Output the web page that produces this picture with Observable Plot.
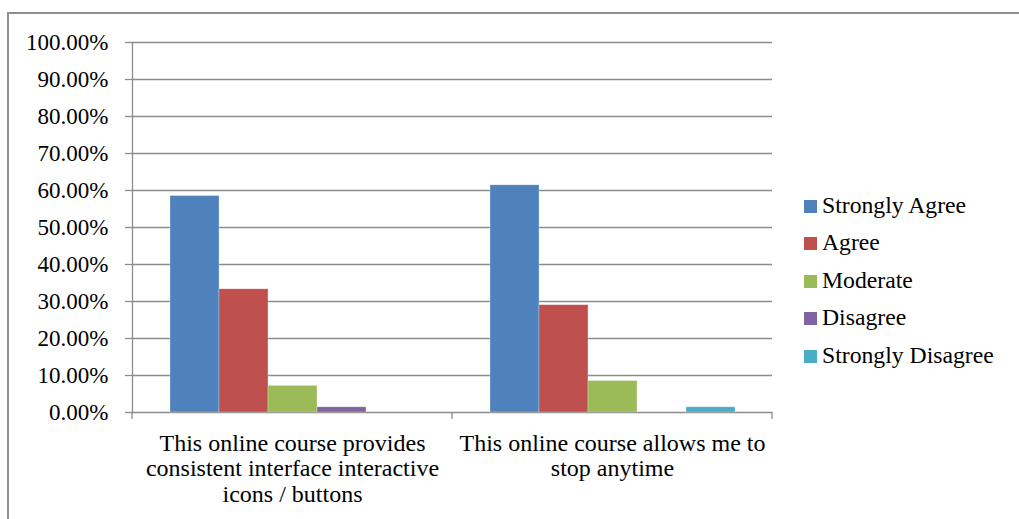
<!DOCTYPE html>
<html><head><meta charset="utf-8">
<script src="https://cdn.jsdelivr.net/npm/d3@7"></script>
<script src="https://cdn.jsdelivr.net/npm/@observablehq/plot@0.6"></script>
<style>
body{margin:0;background:#fff;}
#wrap{position:relative;width:1019px;height:519px;overflow:hidden;font-family:"Liberation Serif","Times New Roman",serif;background:#fff;}
#border{position:absolute;left:7px;top:12px;width:1100px;height:600px;border:2px solid #8f8f8f;box-sizing:border-box;}
#chart{position:absolute;left:0;top:0;}
.lg-sw{position:absolute;width:13px;height:13px;}
.lg-tx{position:absolute;font-size:23.7px;line-height:24px;color:#000;white-space:nowrap;}
</style></head>
<body>
<div id="wrap"><div id="border"></div><div id="chart"></div></div>
<script>
const categories = [
  "This online course provides consistent interface interactive icons / buttons",
  "This online course allows me to stop anytime"
];
const categoryLabels = [
  "This online course provides\nconsistent interface interactive\nicons / buttons",
  "This online course allows me to\nstop anytime"
];
const series = ["Strongly Agree", "Agree", "Moderate", "Disagree", "Strongly Disagree"];
const colors = ["#4F81BD", "#C0504D", "#9BBB59", "#8064A2", "#4BACC6"];
const valuesCourse1 = [0.585, 0.333, 0.072, 0.014, 0];
const valuesCourse2 = [0.614, 0.29, 0.085, 0, 0.014];
const yTicks = [0, 0.1, 0.2, 0.3, 0.4, 0.5, 0.6, 0.7, 0.8, 0.9, 1];

const allValues = [valuesCourse1, valuesCourse2];
const data = [];
categories.forEach((c, i) => series.forEach((s, j) => data.push({category: c, series: s, value: allValues[i][j]})));

const gridColor = "#8c8c8c";
const plot = Plot.plot({
  width: 1019, height: 519,
  marginLeft: 132, marginRight: 247, marginTop: 42, marginBottom: 107,
  style: {fontFamily: "'Liberation Serif','Times New Roman',serif", fontSize: "23px", color: "#000", background: "transparent", overflow: "visible"},
  fx: {domain: categories, padding: 0, axis: null},
  x: {domain: series, paddingInner: 0, paddingOuter: 0.765, axis: null},
  y: {domain: [0, 1], axis: null},
  color: {domain: series, range: colors},
  marks: [
    Plot.ruleY(yTicks, {stroke: gridColor, strokeWidth: 1.3}),
    Plot.axisY(yTicks, {tickSize: 7, tickPadding: 17, tickFormat: d3.format(".2%"), stroke: gridColor, strokeWidth: 1.3, fill: "#000", fontSize: 23, label: null}),
    Plot.frame({anchor: "left", facetAnchor: "left", stroke: gridColor, strokeWidth: 1.3}),
    Plot.barY(data, {fx: "category", x: "series", y: "value", fill: "series", stroke: "#fff", strokeOpacity: 0.45, strokeWidth: 0.6}),
    Plot.text(categories, {fx: d => d, text: (d, i) => categoryLabels[i], frameAnchor: "bottom", lineAnchor: "top", dy: 20, fontSize: 24, lineHeight: 1.07, fill: "#000"})
  ]
});
document.getElementById("chart").appendChild(plot);

// category boundary ticks, positioned from Plot's own fx and y scales
const fx = plot.scale("fx");
const y = plot.scale("y");
const y0 = y.apply(0);
const bounds = categories.map(c => fx.apply(c));
bounds.push(fx.apply(categories[categories.length - 1]) + fx.bandwidth);
d3.select(plot).append("g").selectAll("line").data(bounds).join("line")
  .attr("x1", d => d).attr("x2", d => d)
  .attr("y1", y0).attr("y2", y0 + 7)
  .attr("stroke", gridColor).attr("stroke-width", 1.3);

// legend (HTML, beside the SVG)
const wrap = document.getElementById("wrap");
series.forEach((s, i) => {
  const sw = document.createElement("div");
  sw.className = "lg-sw";
  sw.style.left = "804px";
  sw.style.top = (199.5 + i * 37.6) + "px";
  sw.style.background = colors[i];
  wrap.appendChild(sw);
  const tx = document.createElement("div");
  tx.className = "lg-tx";
  tx.style.left = "822px";
  tx.style.top = (192.5 + i * 37.6) + "px";
  tx.textContent = s;
  wrap.appendChild(tx);
});
</script>
</body></html>
